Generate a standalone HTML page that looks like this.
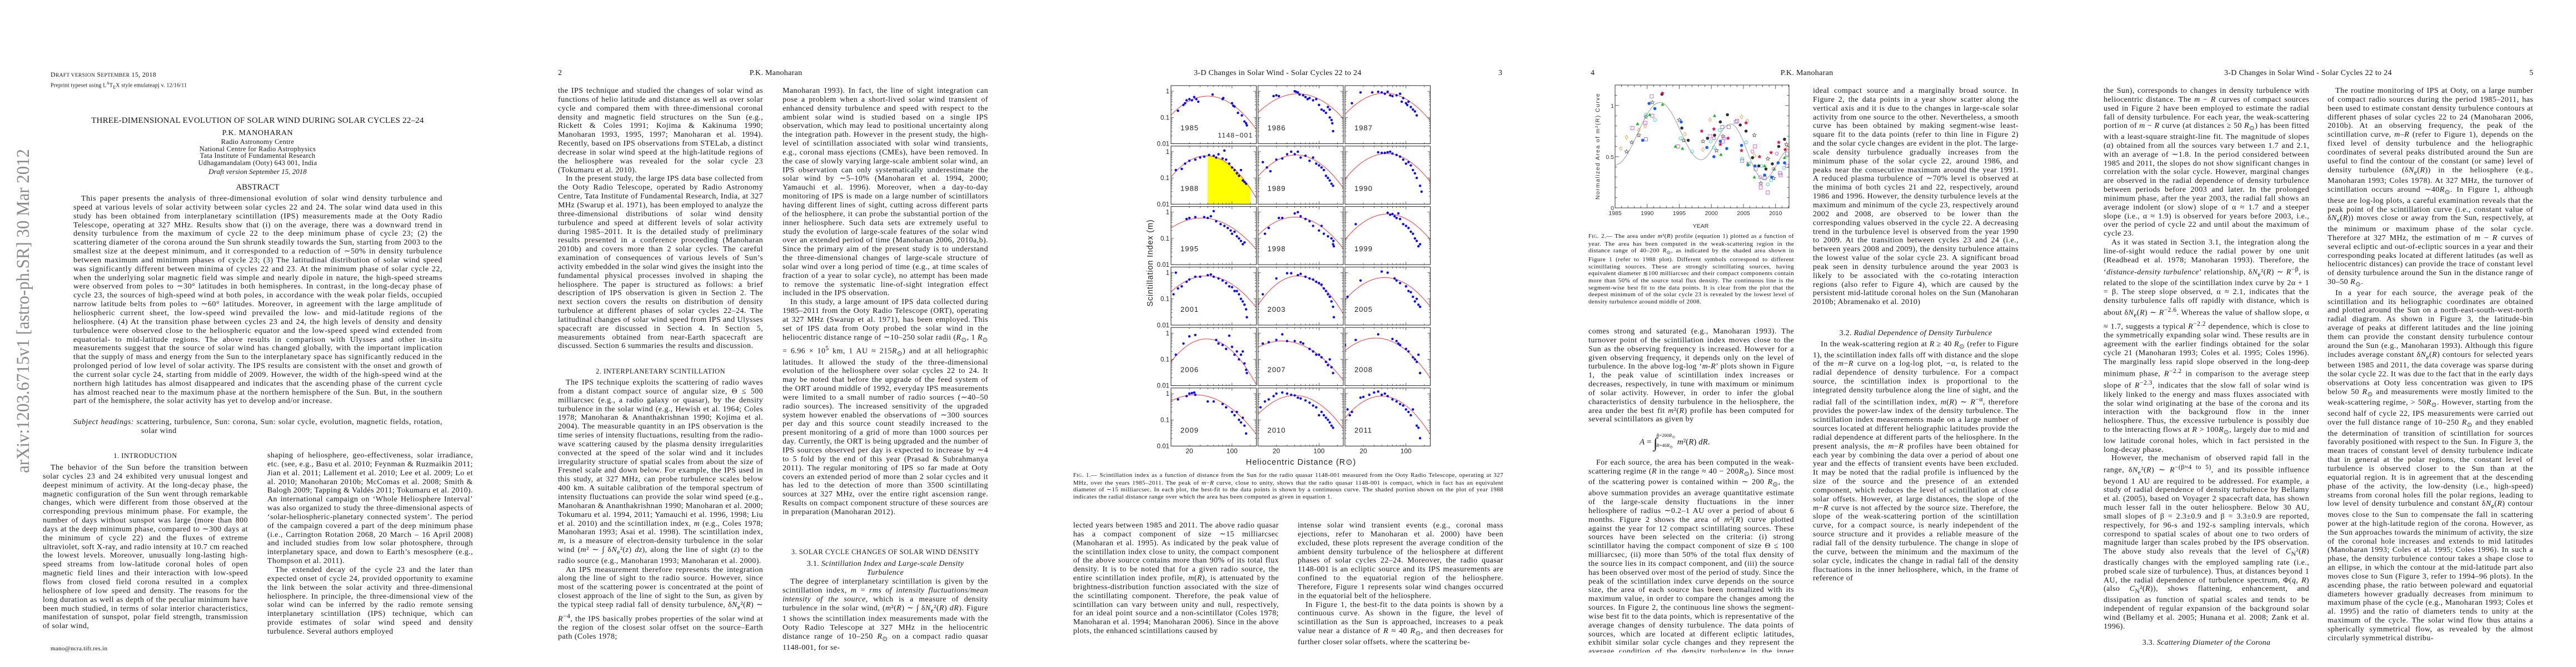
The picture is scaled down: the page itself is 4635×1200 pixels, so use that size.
<!DOCTYPE html>
<html lang="en"><head><meta charset="utf-8">
<style>
html,body{margin:0;padding:0;background:#fff;}
body{width:4635px;height:1200px;position:relative;overflow:hidden;font-family:"Liberation Serif",serif;color:#141414;}
.t{position:absolute;font-size:14px;line-height:15.85px;letter-spacing:0.42px;text-align:justify;overflow:hidden;hyphens:auto;-webkit-hyphens:auto;}
.t p{margin:0;text-indent:1em;}
.t p.ni{text-indent:0;}
.h{position:absolute;white-space:nowrap;font-size:14px;line-height:16px;}
.sc{font-size:12.5px;letter-spacing:0.5px;text-align:center;}
.cap{position:absolute;font-size:11px;line-height:12.65px;letter-spacing:0.4px;text-align:justify;overflow:hidden;hyphens:auto;}
.cap p{margin:0;}
i{font-style:italic;}
svg text{font-family:"Liberation Sans",sans-serif;}
</style></head>
<body>

<svg id="stamp" style="position:absolute;left:0;top:0" width="80" height="1200">
<text x="0" y="0" transform="translate(52,851) rotate(-90)" textLength="583" lengthAdjust="spacingAndGlyphs" style="font-family:'Liberation Serif',serif;font-size:33px;fill:#8a8a8a">arXiv:1203.6715v1  [astro-ph.SR]  30 Mar 2012</text>
</svg>

<!-- PAGE 1 -->
<div class="h" style="left:91px;top:126px;font-size:12px;letter-spacing:0.3px">D<span style="font-size:9.5px">RAFT VERSION</span> S<span style="font-size:9.5px">EPTEMBER</span> 15, 2018</div>
<div class="h" style="left:91px;top:142px;font-size:10px;letter-spacing:0.2px">Preprint typeset using L<sup style="font-size:7px">A</sup>T<sub style="font-size:8px">E</sub>X style emulateapj v. 12/16/11</div>
<div class="h" style="left:0;width:927px;top:209px;text-align:center;font-size:15px;letter-spacing:0.2px">THREE-DIMENSIONAL EVOLUTION OF SOLAR WIND DURING SOLAR CYCLES 22–24</div>
<div class="h" style="left:0;width:927px;top:232px;text-align:center;font-size:14px;letter-spacing:0.6px">P.K. MANOHARAN</div>
<div class="h" style="left:0;width:927px;top:249px;text-align:center;font-size:12.5px;line-height:12.6px;letter-spacing:0.3px">Radio Astronomy Centre<br>National Centre for Radio Astrophysics<br>Tata Institute of Fundamental Research<br>Udhagamandalam (Ooty) 643 001, India</div>
<div class="h" style="left:0;width:927px;top:301px;text-align:center;font-size:13px;font-style:italic">Draft version September 15, 2018</div>
<div class="h" style="left:0;width:927px;top:329px;text-align:center;font-size:15px">ABSTRACT</div>
<div class="t" style="left:132px;top:350px;width:664px;height:397px;letter-spacing:0.55px"><p>This paper presents the analysis of three-dimensional evolution of solar wind density turbulence and speed at various levels of solar activity between solar cycles 22 and 24. The solar wind data used in this study has been obtained from interplanetary scintillation (IPS) measurements made at the Ooty Radio Telescope, operating at 327 MHz. Results show that (i) on the average, there was a downward trend in density turbulence from the maximum of cycle 22 to the deep minimum phase of cycle 23; (2) the scattering diameter of the corona around the Sun shrunk steadily towards the Sun, starting from 2003 to the smallest size at the deepest minimum, and it corresponded to a reduction of ∼50% in density turbulence between maximum and minimum phases of cycle 23; (3) The latitudinal distribution of solar wind speed was significantly different between minima of cycles 22 and 23. At the minimum phase of solar cycle 22, when the underlying solar magnetic field was simple and nearly dipole in nature, the high-speed streams were observed from poles to ∼30° latitudes in both hemispheres. In contrast, in the long-decay phase of cycle 23, the sources of high-speed wind at both poles, in accordance with the weak polar fields, occupied narrow latitude belts from poles to ∼60° latitudes. Moreover, in agreement with the large amplitude of heliospheric current sheet, the low-speed wind prevailed the low- and mid-latitude regions of the heliosphere. (4) At the transition phase between cycles 23 and 24, the high levels of density and density turbulence were observed close to the heliospheric equator and the low-speed speed wind extended from equatorial- to mid-latitude regions. The above results in comparison with Ulysses and other in-situ measurements suggest that the source of solar wind has changed globally, with the important implication that the supply of mass and energy from the Sun to the interplanetary space has significantly reduced in the prolonged period of low level of solar activity. The IPS results are consistent with the onset and growth of the current solar cycle 24, starting from middle of 2009. However, the width of the high-speed wind at the northern high latitudes has almost disappeared and indicates that the ascending phase of the current cycle has almost reached near to the maximum phase at the northern hemisphere of the Sun. But, in the southern part of the hemisphere, the solar activity has yet to develop and/or increase.</p></div>
<div class="t" style="left:132px;top:752px;width:664px;height:33px;letter-spacing:0.5px"><p class="ni" style="padding-left:122px;text-indent:-122px"><i>Subject headings:</i> scattering, turbulence, Sun: corona, Sun: solar cycle, evolution, magnetic fields, rotation, solar wind</p></div>
<div class="h sc" style="left:77px;width:369px;top:812px">1.  INTRODUCTION</div>
<div class="t" style="left:77px;top:834px;width:369px;height:302px"><p>The behavior of the Sun before the transition between solar cycles 23 and 24 exhibited very unusual longest and deepest minimum of activity. At the long-decay phase, the magnetic configuration of the Sun went through remarkable changes, which were different from those observed at the corresponding previous minimum phase. For example, the number of days without sunspot was large (more than 800 days at the deep minimum phase, compared to ∼300 days at the minimum of cycle 22) and the fluxes of extreme ultraviolet, soft X-ray, and radio intensity at 10.7 cm reached the lowest levels. Moreover, unusually long-lasting high-speed streams from low-latitude coronal holes of open magnetic field lines and their interaction with low-speed flows from closed field corona resulted in a complex heliosphere of low speed and density. The reasons for the long duration as well as depth of the peculiar minimum have been much studied, in terms of solar interior characteristics, manifestation of sunspot, polar field strength, transmission of solar wind,</p></div>
<div class="t" style="left:481px;top:812px;width:370px;height:350px"><p class="ni">shaping of heliosphere, geo-effectiveness, solar irradiance, etc. (see, e.g., Basu et al. 2010; Feynman &amp; Ruzmaikin 2011; Jian et al. 2011; Lallement et al. 2010; Lee et al. 2009; Lo et al. 2010; Manoharan 2010b; McComas et al. 2008; Smith &amp; Balogh 2009; Tapping &amp; Valdés 2011; Tokumaru et al. 2010). An international campaign on ‘Whole Heliosphere Interval’ was also organized to study the three-dimensional aspects of ‘solar-heliospheric-planetary connected system’. The period of the campaign covered a part of the deep minimum phase (i.e., Carrington Rotation 2068, 20 March – 16 April 2008) and included studies from low solar photosphere, through interplanetary space, and down to Earth’s mesosphere (e.g., Thompson et al. 2011).</p><p>The extended decay of the cycle 23 and the later than expected onset of cycle 24, provided opportunity to examine the link between the solar activity and three-dimensional heliosphere. In principle, the three-dimensional view of the solar wind can be inferred by the radio remote sensing interplanetary scintillation (IPS) technique, which can provide estimates of solar wind speed and density turbulence. Several authors employed</p></div>
<div class="h" style="left:91px;top:1159px;font-size:11px;letter-spacing:0.3px">mano@ncra.tifr.res.in</div>

<!-- PAGE 2 -->
<div class="h" style="left:1004px;top:124px">2</div>
<div class="h" style="left:1291px;width:210px;top:124px;text-align:center;letter-spacing:0.3px">P.K. Manoharan</div>
<div class="t" style="left:1004px;top:156px;width:369px;height:492px"><p class="ni">the IPS technique and studied the changes of solar wind as functions of helio latitude and distance as well as over solar cycle and compared them with three-dimensional coronal density and magnetic field structures on the Sun (e.g., Rickett &amp; Coles 1991; Kojima &amp; Kakinuma 1990; Manoharan 1993, 1995, 1997; Manoharan et al. 1994). Recently, based on IPS observations from STELab, a distinct decrease in solar wind speed at the high-latitude regions of the heliosphere was revealed for the solar cycle 23 (Tokumaru et al. 2010).</p><p>In the present study, the large IPS data base collected from the Ooty Radio Telescope, operated by Radio Astronomy Centre, Tata Institute of Fundamental Research, India, at 327 MHz (Swarup et al. 1971), has been employed to analyze the three-dimensional distributions of solar wind density turbulence and speed at different levels of solar activity during 1985–2011. It is the detailed study of preliminary results presented in a conference proceeding (Manoharan 2010b) and covers more than 2 solar cycles. The careful examination of consequences of various levels of Sun’s activity embedded in the solar wind gives the insight into the fundamental physical processes involved in shaping the heliosphere. The paper is structured as follows: a brief description of IPS observation is given in Section 2. The next section covers the results on distribution of density turbulence at different phases of solar cycles 22–24. The latitudinal changes of solar wind speed from IPS and Ulysses spacecraft are discussed in Section 4. In Section 5, measurements obtained from near-Earth spacecraft are discussed. Section 6 summaries the results and discussion.</p></div>
<div class="h sc" style="left:1004px;width:369px;top:660px">2.  INTERPLANETARY SCINTILLATION</div>
<div class="t" style="left:1004px;top:681px;width:369px;height:492px"><p>The IPS technique exploits the scattering of radio waves from a distant compact source of angular size, Θ ≤ 500 milliarcsec (e.g., a radio galaxy or quasar), by the density turbulence in the solar wind (e.g., Hewish et al. 1964; Coles 1978; Manoharan &amp; Ananthakrishnan 1990; Kojima et al. 2004). The measurable quantity in an IPS observation is the time series of intensity fluctuations, resulting from the radio-wave scattering caused by the plasma density irregularities convected at the speed of the solar wind and it includes irregularity structure of spatial scales from about the size of Fresnel scale and down below. For example, the IPS used in this study, at 327 MHz, can probe turbulence scales below 400 km. A suitable calibration of the temporal spectrum of intensity fluctuations can provide the solar wind speed (e.g., Manoharan &amp; Ananthakrishnan 1990; Manoharan et al. 2000; Tokumaru et al. 1994, 2011; Yamauchi et al. 1996, 1998; Liu et al. 2010) and the scintillation index, <i>m</i> (e.g., Coles 1978; Manoharan 1993; Asai et al. 1998). The scintillation index, <i>m</i>, is a measure of electron-density turbulence in the solar wind (<i>m</i>² ∼ ∫ δ<i>N</i><sub>e</sub>²(<i>z</i>) <i>dz</i>), along the line of sight (<i>z</i>) to the radio source (e.g., Manoharan 1993; Manoharan et al. 2000).</p><p>An IPS measurement therefore represents the integration along the line of sight to the radio source. However, since most of the scattering power is concentrated at the point of closest approach of the line of sight to the Sun, as given by the typical steep radial fall of density turbulence, δ<i>N</i><sub>e</sub>²(<i>R</i>) ∼ <i>R</i><sup>−4</sup>, the IPS basically probes properties of the solar wind at the region of the closest solar offset on the source–Earth path (Coles 1978;</p></div>
<div class="t" style="left:1408px;top:156px;width:370px;height:809px"><p class="ni">Manoharan 1993). In fact, the line of sight integration can pose a problem when a short-lived solar wind transient of enhanced density turbulence and speed with respect to the ambient solar wind is studied based on a single IPS observation, which may lead to positional uncertainty along the integration path. However in the present study, the high-level of scintillation associated with solar wind transients, e.g., coronal mass ejections (CMEs), have been removed. In the case of slowly varying large-scale ambient solar wind, an IPS observation can only systematically underestimate the solar wind by ∼5–10% (Manoharan et al. 1994, 2000; Yamauchi et al. 1996). Moreover, when a day-to-day monitoring of IPS is made on a large number of scintillators having different lines of sight, cutting across different parts of the heliosphere, it can probe the substantial portion of the inner heliosphere. Such data sets are extremely useful to study the evolution of large-scale features of the solar wind over an extended period of time (Manoharan 2006, 2010a,b). Since the primary aim of the present study is to understand the three-dimensional changes of large-scale structure of solar wind over a long period of time (e.g., at time scales of fraction of a year to solar cycle), no attempt has been made to remove the systematic line-of-sight integration effect included in the IPS observation.</p><p>In this study, a large amount of IPS data collected during 1985–2011 from the Ooty Radio Telescope (ORT), operating at 327 MHz (Swarup et al. 1971), has been employed. This set of IPS data from Ooty probed the solar wind in the heliocentric distance range of ∼10–250 solar radii (<i>R</i><sub>⊙</sub>, 1 <i>R</i><sub>⊙</sub> = 6.96 × 10<sup>5</sup> km, 1 AU ≈ 215<i>R</i><sub>⊙</sub>) and at all heliographic latitudes. It allowed the study of the three-dimensional evolution of the heliosphere over solar cycles 22 to 24. It may be noted that before the upgrade of the feed system of the ORT around middle of 1992, everyday IPS measurements were limited to a small number of radio sources (∼40–50 radio sources). The increased sensitivity of the upgraded system however enabled the observations of ∼300 sources per day and this source count steadily increased to the present monitoring of a grid of more than 1000 sources per day. Currently, the ORT is being upgraded and the number of IPS sources observed per day is expected to increase by ∼4 to 5 fold by the end of this year (Prasad &amp; Subrahmanya 2011). The regular monitoring of IPS so far made at Ooty covers an extended period of more than 2 solar cycles and it has led to the detection of more than 3500 scintillating sources at 327 MHz, over the entire right ascension range. Results on compact component structure of these sources are in preparation (Manoharan 2012).</p></div>
<div class="h sc" style="left:1408px;width:370px;top:985px">3.  SOLAR CYCLE CHANGES OF SOLAR WIND DENSITY</div>
<div class="h" style="left:1408px;width:370px;top:1007px;text-align:center;line-height:16px;letter-spacing:0.3px">3.1.  <i>Scintillation Index and Large-scale Density<br>Turbulence</i></div>
<div class="t" style="left:1408px;top:1039px;width:370px;height:134px"><p>The degree of interplanetary scintillation is given by the scintillation index, <i>m</i> = <i>rms of intensity fluctuations/mean intensity of the source</i>, which is a measure of density turbulence in the solar wind, (<i>m</i>²(<i>R</i>) ∼ ∫ δ<i>N</i><sub>e</sub>²(<i>R</i>) <i>dR</i>). Figure 1 shows the scintillation index measurements made with the Ooty Radio Telescope at 327 MHz in the heliocentric distance range of 10–250 <i>R</i><sub>⊙</sub> on a compact radio quasar 1148-001, for se-</p></div>

<!-- PAGE 3 -->
<div class="h" style="left:2148px;top:124px;letter-spacing:0.3px">3-D Changes in Solar Wind - Solar Cycles 22 to 24</div>
<div class="h" style="left:2696px;top:124px">3</div>
<div class="cap" style="left:1931px;top:849px;width:774px;height:66px"><p><span style="font-size:10px">F</span><span style="font-size:8.5px">IG</span>. 1.— Scintillation index as a function of distance from the Sun for the radio quasar 1148-001 measured from the Ooty Radio Telescope, operating at 327 MHz, over the years 1985–2011. The peak of <i>m</i>−<i>R</i> curve, close to unity, shows that the radio quasar 1148-001 is compact, which in fact has an equivalent diameter of ∼15 milliarcsec. In each plot, the best-fit to the data points is shown by a continuous curve. The shaded portion shown on the plot of year 1988 indicates the radial distance range over which the area has been computed as given in equation 1.</p></div>
<div class="t" style="left:1931px;top:938px;width:370px;height:222px"><p class="ni">lected years between 1985 and 2011. The above radio quasar has a compact component of size ∼15 milliarcsec (Manoharan et al. 1995). As indicated by the peak value of the scintillation index close to unity, the compact component of the above source contains more than 90% of its total flux density. It is to be noted that for a given radio source, the entire scintillation index profile, <i>m</i>(<i>R</i>), is attenuated by the brightness-distribution function associated with the size of the scintillating component. Therefore, the peak value of scintillation can vary between unity and null, respectively, for an ideal point source and a non-scintillator (Coles 1978; Manoharan et al. 1994; Manoharan 2006). Since in the above plots, the enhanced scintillations caused by</p></div>
<div class="t" style="left:2335px;top:938px;width:370px;height:222px"><p class="ni">intense solar wind transient events (e.g., coronal mass ejections, refer to Manoharan et al. 2000) have been excluded, these plots represent the average condition of the ambient density turbulence of the heliosphere at different phases of solar cycles 22–24. Moreover, the radio quasar 1148-001 is an ecliptic source and its IPS measurements are confined to the equatorial region of the heliosphere. Therefore, Figure 1 represents solar wind changes occurred in the equatorial belt of the heliosphere.</p><p>In Figure 1, the best-fit to the data points is shown by a continuous curve. As shown in the figure, the level of scintillation as the Sun is approached, increases to a peak value near a distance of <i>R</i> ≈ 40 <i>R</i><sub>⊙</sub>, and then decreases for further closer solar offsets, where the scattering be-</p></div>

<!-- PAGE 4 -->
<div class="h" style="left:2862px;top:124px">4</div>
<div class="h" style="left:3146px;width:210px;top:124px;text-align:center;letter-spacing:0.3px">P.K. Manoharan</div>
<div class="cap" style="left:2858px;top:419px;width:370px;height:141px"><p><span style="font-size:10px">F</span><span style="font-size:8.5px">IG</span>. 2.— The area under <i>m</i>²(<i>R</i>) profile (equation 1) plotted as a function of year. The area has been computed in the weak-scattering region in the distance range of 40–200 <i>R</i><sub>⊙</sub>, as indicated by the shaded area shown in Figure 1 (refer to 1988 plot). Different symbols correspond to different scintillating sources. These are strongly scintillating sources, having equivalent diameter ≲100 milliarcsec and their compact components contain more than 50% of the source total flux density. The continuous line is the segment-wise best fit to the data points. It is clear from the plot that the deepest minimum of of the solar cycle 23 is revealed by the lowest level of density turbulence around middle of 2008.</p></div>
<div class="t" style="left:2858px;top:589px;width:370px;height:175px"><p class="ni">comes strong and saturated (e.g., Manoharan 1993). The turnover point of the scintillation index moves close to the Sun as the observing frequency is increased. However for a given observing frequency, it depends only on the level of turbulence. In the above log-log ‘<i>m</i>-<i>R</i>’ plots shown in Figure 1, the peak value of scintillation index increases or decreases, respectively, in tune with maximum or minimum of solar activity. However, in order to infer the global characteristics of density turbulence in the heliosphere, the area under the best fit <i>m</i>²(<i>R</i>) profile has been computed for several scintillators as given by</p></div>
<div class="h" style="left:2950px;top:776px;font-size:15px;line-height:18px"><i>A</i> = <span style="font-size:26px;vertical-align:-6px">∫</span><span style="display:inline-block;vertical-align:-4px;font-size:8.5px;line-height:14px;margin-left:-2px"><i>R</i>=200<i>R</i><sub>⊙</sub><br><i>R</i>=40<i>R</i><sub>⊙</sub></span>  <i>m</i>²(<i>R</i>) <i>dR</i>.</div>
<div class="t" style="left:2858px;top:825px;width:370px;height:349px"><p>For each source, the area has been computed in the weak-scattering regime (<i>R</i> in the range ≈ 40 − 200<i>R</i><sub>⊙</sub>). Since most of the scattering power is contained within ∼ 200 <i>R</i><sub>⊙</sub>, the above summation provides an average quantitative estimate of the large-scale density fluctuations in the inner heliosphere of radius ∼0.2–1 AU over a period of about 6 months. Figure 2 shows the area of <i>m</i>²(<i>R</i>) curve plotted against the year for 12 compact scintillating sources. These sources have been selected on the criteria: (i) strong scintillator having the compact component of size Θ ≤ 100 milliarcsec, (ii) more than 50% of the total flux density of the source lies in its compact component, and (iii) the source has been observed over most of the period of study. Since the peak of the scintillation index curve depends on the source size, the area of each source has been normalized with its maximum value, in order to compare the changes among the sources. In Figure 2, the continuous line shows the segment-wise best fit to the data points, which is representative of the average changes of density turbulence. The data points of sources, which are located at different ecliptic latitudes, exhibit similar solar cycle changes and they represent the average condition of the density turbulence in the inner heliosphere. The changes in area between an</p></div>
<div class="t" style="left:3262px;top:156px;width:370px;height:413px"><p class="ni">ideal compact source and a marginally broad source. In Figure 2, the data points in a year show scatter along the vertical axis and it is due to the changes in large-scale solar activity from one source to the other. Nevertheless, a smooth curve has been obtained by making segment-wise least-square fit to the data points (refer to thin line in Figure 2) and the solar cycle changes are evident in the plot. The large-scale density turbulence gradually increases from the minimum phase of the solar cycle 22, around 1986, and peaks near the consecutive maximum around the year 1991. A reduced plasma turbulence of ∼70% level is observed at the minima of both cycles 21 and 22, respectively, around 1986 and 1996. However, the density turbulence levels at the maximum and minimum of the cycle 23, respectively around 2002 and 2008, are observed to be lower than the corresponding values observed in the cycle 22. A decreasing trend in the turbulence level is observed from the year 1990 to 2009. At the transition between cycles 23 and 24 (i.e., between years 2008 and 2009), the density turbulence attains the lowest value of the solar cycle 23. A significant broad peak seen in density turbulence around the year 2003 is likely to be associated with the co-rotating interaction regions (also refer to Figure 4), which are caused by the persistent mid-latitude coronal holes on the Sun (Manoharan 2010b; Abramenako et al. 2010)</p></div>
<div class="h" style="left:3262px;width:370px;top:592px;text-align:center;letter-spacing:0.3px">3.2.  <i>Radial Dependence of Density Turbulence</i></div>
<div class="t" style="left:3262px;top:612px;width:370px;height:562px"><p>In the weak-scattering region at <i>R</i> ≥ 40 <i>R</i><sub>⊙</sub> (refer to Figure 1), the scintillation index falls off with distance and the slope of the <i>m</i>−<i>R</i> curve on a log-log plot, −α, is related to the radial dependence of density turbulence. For a compact source, the scintillation index is proportional to the integrated density turbulence along the line of sight, and the radial fall of the scintillation index, <i>m</i>(<i>R</i>) ∼ <i>R</i><sup>−α</sup>, therefore provides the power-law index of the density turbulence. The scintillation index measurements made on a large number of sources located at different heliographic latitudes provide the radial dependence at different parts of the heliosphere. In the present analysis, the <i>m</i>−<i>R</i> profiles have been obtained for each year by combining the data over a period of about one year and the effects of transient events have been excluded. It may be noted that the radial profile is influenced by the size of the source and the presence of an extended component, which reduces the level of scintillation at close solar offsets. However, at large distances, the slope of the <i>m</i>−<i>R</i> curve is not affected by the source size. Therefore, the slope of the weak-scattering portion of the scintillation curve, for a compact source, is nearly independent of the source structure and it provides a reliable measure of the radial fall of the density turbulence. The change in slope of the curve, between the minimum and the maximum of the solar cycle, indicates the change in radial fall of the density fluctuations in the inner heliosphere, which, in the frame of reference of</p></div>

<!-- PAGE 5 -->
<div class="h" style="left:4002px;top:124px;letter-spacing:0.3px">3-D Changes in Solar Wind - Solar Cycles 22 to 24</div>
<div class="h" style="left:4551px;top:124px">5</div>
<div class="t" style="left:3785px;top:156px;width:370px;height:983px"><p class="ni">the Sun), corresponds to changes in density turbulence with heliocentric distance. The <i>m</i> − <i>R</i> curves of compact sources used in Figure 2 have been employed to estimate the radial fall of density turbulence. For each year, the weak-scattering portion of <i>m</i> − <i>R</i> curve (at distances ≥ 50 <i>R</i><sub>⊙</sub>) has been fitted with a least-square straight-line fit. The magnitude of slopes (α) obtained from all the sources vary between 1.7 and 2.1, with an average of ∼1.8. In the period considered between 1985 and 2011, the slopes do not show significant changes in correlation with the solar cycle. However, marginal changes are observed in the radial dependence of density turbulence between periods before 2003 and later. In the prolonged minimum phase, after the year 2003, the radial fall shows an average indolent (or slow) slope of α ≈ 1.7 and a steeper slope (i.e., α ≈ 1.9) is observed for years before 2003, i.e., over the period of cycle 22 and until about the maximum of cycle 23.</p><p>As it was stated in Section 3.1, the integration along the line-of-sight would reduce the radial power by one unit (Readhead et al. 1978; Manoharan 1993). Therefore, the ‘<i>distance-density turbulence</i>’ relationship, δ<i>N</i><sub>e</sub>²(<i>R</i>) ∼ <i>R</i><sup>−β</sup>, is related to the slope of the scintillation index curve by 2α + 1 = β. The steep slope observed, α ≈ 2.1, indicates that the density turbulence falls off rapidly with distance, which is about δ<i>N</i><sub>e</sub>(<i>R</i>) ∼ <i>R</i><sup>−2.6</sup>. Whereas the value of shallow slope, α ≈ 1.7, suggests a typical <i>R</i><sup>−2.2</sup> dependence, which is close to the symmetrically expanding solar wind. These results are in agreement with the earlier findings obtained for the solar cycle 21 (Manoharan 1993; Coles et al. 1995; Coles 1996). The marginally less rapid slope observed in the long-deep minimum phase, <i>R</i><sup>−2.2</sup> in comparison to the average steep slope of <i>R</i><sup>−2.3</sup>, indicates that the slow fall of solar wind is likely linked to the energy and mass fluxes associated with the solar wind originating at the base of the corona and its interaction with the background flow in the inner heliosphere. Thus, the excessive turbulence is possibly due to the interacting flows at <i>R</i> &gt; 100<i>R</i><sub>⊙</sub>, largely due to mid and low latitude coronal holes, which in fact persisted in the long-decay phase.</p><p>However, the mechanism of observed rapid fall in the range, δ<i>N</i><sub>e</sub>²(<i>R</i>) ∼ <i>R</i><sup>−(β≈4 to 5)</sup>, and its possible influence beyond 1 AU are required to be addressed. For example, a study of radial dependence of density turbulence by Bellamy et al. (2005), based on Voyager 2 spacecraft data, has shown much lesser fall in the outer heliosphere. Below 30 AU, small slopes of β = 2.3±0.9 and β = 3.3±0.9 are reported, respectively, for 96-s and 192-s sampling intervals, which correspond to spatial scales of about one to two orders of magnitude larger than scales probed by the IPS observation. The above study also reveals that the level of <i>C</i><sub>N</sub>²(<i>R</i>) drastically changes with the employed sampling rate (i.e., probed scale size of turbulence). Thus, at distances beyond 1 AU, the radial dependence of turbulence spectrum, Φ(<i>q</i>, <i>R</i>) (also <i>C</i><sub>N</sub>²(<i>R</i>)), shows flattening, enhancement, and dissipation as function of spatial scales and tends to be independent of regular expansion of the background solar wind (Bellamy et al. 2005; Hunana et al. 2008; Zank et al. 1996).</p></div>
<div class="h" style="left:3785px;width:370px;top:1149px;text-align:center;letter-spacing:0.3px">3.3.  <i>Scattering Diameter of the Corona</i></div>
<div class="t" style="left:4188px;top:156px;width:370px;height:1017px"><p>The routine monitoring of IPS at Ooty, on a large number of compact radio sources during the period 1985–2011, has been used to estimate constant density turbulence contours at different phases of solar cycles 22 to 24 (Manoharan 2006, 2010b). At an observing frequency, the peak of the scintillation curve, <i>m</i>–<i>R</i> (refer to Figure 1), depends on the fixed level of density turbulence and the heliographic coordinates of several peaks distributed around the Sun are useful to find the contour of the constant (or same) level of density turbulence (δ<i>N</i><sub>e</sub>(<i>R</i>)) in the heliosphere (e.g., Manoharan 1993; Coles 1978). At 327 MHz, the turnover of scintillation occurs around ∼40<i>R</i><sub>⊙</sub>. In Figure 1, although these are log-log plots, a careful examination reveals that the peak point of the scintillation curve (i.e., constant value of δ<i>N</i><sub>e</sub>(<i>R</i>)) moves close or away from the Sun, respectively, at the minimum or maximum phase of the solar cycle. Therefore at 327 MHz, the estimation of <i>m</i> − <i>R</i> curves of several ecliptic and out-of-ecliptic sources in a year and their corresponding peaks located at different latitudes (as well as heliocentric distances) can provide the trace of constant level of density turbulence around the Sun in the distance range of 30–50 <i>R</i><sub>⊙</sub>.</p><p>In a year for each source, the average peak of the scintillation and its heliographic coordinates are obtained and plotted around the Sun on a north-east-south-west-north radial diagram. As shown in Figure 3, the latitude-bin average of peaks at different latitudes and the line joining them can provide the constant density turbulence contour around the Sun (e.g., Manoharan 1993). Although this figure includes average constant δ<i>N</i><sub>e</sub>(<i>R</i>) contours for selected years between 1985 and 2011, the data coverage was sparse during the solar cycle 22. It was due to the fact that in the early days observations at Ooty less concentration was given to IPS below 50 <i>R</i><sub>⊙</sub> and measurements were mostly limited to the weak-scattering regime, &gt; 50<i>R</i><sub>⊙</sub>. However, starting from the second half of cycle 22, IPS measurements were carried out over the full distance range of 10–250 <i>R</i><sub>⊙</sub> and they enabled the determination of transition of scintillation for sources favorably positioned with respect to the Sun. In Figure 3, the mean traces of constant level of density turbulence indicate that in general at the polar regions, the constant level of turbulence is observed closer to the Sun than at the equatorial region. It is in agreement that at the descending phase of the activity, the low-density (i.e., high-speed) streams from coronal holes fill the polar regions, leading to low level of density turbulence and constant δ<i>N</i><sub>e</sub>(<i>R</i>) contour moves close to the Sun to compensate the fall in scattering power at the high-latitude region of the corona. However, as the Sun approaches towards the minimum of activity, the size of the coronal hole increases and extends to mid latitudes (Manoharan 1993; Coles et al. 1995; Coles 1996). In such a phase, the density turbulence contour takes a shape close to an ellipse, in which the contour at the mid-latitude part also moves close to Sun (Figure 3, refer to 1994–96 plots). In the ascending phase, the ratio between poleward and equatorial diameters however gradually decreases from minimum to maximum phase of the cycle (e.g., Manoharan 1993; Coles et al. 1995) and the ratio of diameters tends to unity at the maximum of the cycle. The solar wind flow thus attains a spherically symmetrical flow, as revealed by the almost circularly symmetrical distribu-</p></div>

<svg id="figs" style="position:absolute;left:0;top:0" width="4635" height="1200" xmlns="http://www.w3.org/2000/svg"></svg>

<script>
// ---------- Figure 1 data ----------
const fig1Years = ['1985','1986','1987','1988','1989','1990','1995','1998','1999','2001','2003','2005','2006','2007','2008','2009','2010','2011'];
const fig1PeakR = [40,45,45,38,42,48,32,40,50,38,45,45,38,25,32,25,40,40];
const fig1PeakM = [0.65,0.8,0.85,0.7,0.75,0.85,0.6,0.65,0.85,0.75,0.75,0.65,0.6,0.5,0.65,0.9,0.85,0.8];
const fig1Curv  = [2.0,1.7,1.9,2.4,2.1,2.1,1.5,1.9,2.0,1.8,2.6,2.0,2.6,1.5,1.9,1.5,2.0,2.3];
const pts1985 = [[13,0.18],[16,0.3],[17,0.35],[18,0.45],[20,0.5],[22,0.45],[24,0.6],[26,0.5],[28,0.4],[48,0.75],[70,0.5],[72,0.55],[100,0.35],[105,0.28],[110,0.26],[125,0.15],[145,0.12],[160,0.07],[170,0.06],[175,0.05]];
const pts1986 = [[18,0.65],[20,0.7],[22,0.65],[40,1.0],[42,0.95],[45,0.9],[48,0.75],[55,0.7],[60,0.6],[65,0.5],[70,0.55],[80,0.45],[90,0.5],[100,0.3],[110,0.2],[120,0.18],[130,0.15],[140,0.25],[150,0.1],[160,0.08],[165,0.06],[170,0.03],[150,0.2]];
const pts1987 = [[13,0.35],[18,0.9],[28,0.9],[35,0.95],[40,0.9],[45,0.8],[50,0.95],[55,0.7],[60,0.65],[70,0.7],[80,0.8],[85,0.4],[90,0.55],[100,0.35],[105,0.3],[110,0.4],[120,0.25],[130,0.2],[140,0.17],[150,0.12]];
const pts1988 = [[12,0.2],[15,0.22],[17,0.35],[20,0.45],[25,0.5],[30,0.6],[35,0.65],[42,0.75],[50,0.7],[55,0.6],[60,0.8],[70,0.55],[75,1.1],[80,0.5],[90,0.35],[100,0.25],[110,0.2],[120,0.15],[130,0.12],[140,0.2],[150,0.08],[160,0.07],[170,0.06]];
const pts1989 = [[12,0.4],[14,0.25],[16,0.18],[20,0.5],[25,0.55],[30,0.8],[35,1.0],[40,0.8],[45,1.0],[50,0.6],[60,0.7],[70,0.45],[80,0.6],[90,0.35],[100,0.3],[110,0.25],[120,0.2],[130,0.12],[140,0.1],[150,0.08],[160,0.06],[170,0.05]];
const pts1990 = [[35,0.95],[40,0.9],[45,0.9],[50,0.95],[55,1.0],[60,0.85],[70,0.75],[80,0.65],[90,0.5],[100,0.35],[110,0.4],[120,0.3],[130,0.2],[140,0.15],[150,0.1],[170,0.05],[180,0.03]];
const pts1995 = [[18,0.55],[20,0.6],[25,0.65],[35,0.65],[40,0.6],[45,0.7],[50,1.1],[55,0.45],[65,0.35],[75,0.3],[85,0.25],[95,0.2],[100,0.15],[110,0.18],[120,0.12],[130,0.1],[140,0.08],[150,0.06],[160,0.07]];
const pts1998 = [[13,0.15],[15,0.25],[22,0.6],[25,0.6],[40,0.9],[45,1.0],[50,0.7],[60,0.55],[70,0.45],[80,0.3],[100,0.2],[110,0.3],[120,0.15],[140,0.12],[160,0.1],[170,0.06],[172,0.08],[175,0.05]];
const pts1999 = [[15,0.35],[50,0.95],[55,0.8],[60,0.85],[65,0.7],[70,0.6],[75,0.9],[80,0.55],[90,0.35],[100,0.3],[110,0.25],[120,0.18],[130,0.15],[140,0.1],[150,0.08],[160,0.05],[170,0.06]];
const pts2001 = [[11,0.15],[12,1.0],[13,0.25],[15,0.3],[18,0.45],[20,0.55],[25,0.7],[30,0.7],[40,0.8],[45,0.85],[50,0.7],[60,0.6],[70,0.5],[80,0.4],[90,0.3],[100,0.28],[110,0.2],[120,0.2],[130,0.15],[140,0.1],[150,0.08],[160,0.06],[170,0.04],[175,0.02]];
const pts2003 = [[12,0.15],[20,0.6],[30,0.95],[35,0.95],[45,0.8],[50,0.9],[60,0.7],[70,0.6],[80,0.55],[90,0.45],[100,0.4],[110,0.35],[120,0.25],[130,0.2],[140,0.15],[150,0.12],[160,0.08],[170,0.05],[175,0.02]];
const pts2005 = [[11,0.12],[18,0.5],[40,1.1],[50,1.0],[65,0.6],[70,0.5],[80,0.4],[100,0.3],[110,0.2],[120,0.18],[130,0.12],[140,0.08],[150,0.1],[160,0.06],[170,0.05]];
const pts2006 = [[12,0.15],[16,0.4],[20,0.75],[25,0.85],[55,0.55],[60,0.4],[70,0.35],[80,0.25],[90,0.8],[100,0.3],[110,0.15],[120,0.2],[130,0.1],[140,0.15],[150,0.2],[160,0.07],[170,0.04],[175,0.03]];
const pts2007 = [[12,0.4],[15,0.45],[20,0.55],[25,0.9],[30,0.5],[40,0.5],[50,0.45],[55,0.4],[70,0.25],[80,0.2],[90,0.15],[100,0.15],[110,0.12],[130,0.08],[140,0.06],[150,0.1],[160,0.05],[170,0.03]];
const pts2008 = [[10,0.35],[15,0.55],[35,0.9],[60,0.6],[70,0.5],[75,0.4],[80,0.35],[100,0.25],[110,0.2],[130,0.12],[140,0.1],[150,0.08],[160,0.15],[170,0.03]];
const pts2009 = [[13,0.6],[18,0.8],[20,1.0],[22,1.05],[24,1.1],[25,0.9],[40,0.5],[50,0.5],[70,0.4],[80,0.3],[100,0.2],[110,0.15],[120,0.2],[130,0.1],[140,0.08],[150,0.12],[160,0.06],[170,0.03]];
const pts2010 = [[11,0.3],[13,0.5],[15,0.6],[18,0.8],[20,1.0],[25,1.1],[30,1.0],[35,0.9],[40,0.85],[45,0.7],[50,0.65],[60,0.55],[70,0.45],[80,0.35],[90,0.3],[100,0.15],[110,0.2],[120,0.15],[130,0.12],[140,0.1],[150,0.08],[160,0.06],[170,0.05]];
const pts2011 = [[11,0.25],[12,0.15],[13,0.2],[18,0.7],[20,0.75],[25,0.9],[30,1.1],[35,1.2],[40,0.9],[45,1.0],[50,0.8],[60,0.6],[70,0.5],[80,0.4],[90,0.35],[100,0.25],[110,0.2],[120,0.15],[130,0.25],[150,0.06],[160,0.05],[170,0.02]];
const fig1Points = [pts1985,pts1986,pts1987,pts1988,pts1989,pts1990,pts1995,pts1998,pts1999,pts2001,pts2003,pts2005,pts2006,pts2007,pts2008,pts2009,pts2010,pts2011];
const fig1YTicks = [1,0.1,0.01];
const fig1YTickLabels = ['1','0.1','0.01'];
const fig1XTicks = [20,100];
const fig1XTickLabels = ['20','100'];
const fig1ShadeRange = [40,200];

// ---------- Figure 2 data ----------
const fitKnotYears = [1985,1992,1998.4,2003,2008.2,2012.2];
const fitKnotVals  = [0.42,1.03,0.47,0.82,0.28,0.57];
const fig2XTicks = [1985,1990,1995,2000,2005,2010];
const fig2YTicks = [0,0.5,1];
const fig2YTickLabels = ['0','0.5','1'];
const s1Years=[1985.9,1986.8,1988.7,1989.7,1995.9,1999.8,1998.7,2004.7,2005.6,2011.9,2006.7], s1Vals=[0.58,0.69,0.76,0.8,0.72,0.86,0.57,0.89,0.85,0.59,0.51];
const s2Years=[1986.8,1987.6,1988.7,1989.8,1990.8,1995,1995.7,1998.7,2000.8,2001.8,2006.7,2007.7,2008.8,2009.7,2011.7], s2Vals=[0.55,0.64,0.71,0.89,1.03,0.86,0.66,0.65,0.56,0.7,0.71,0.24,0.48,0.29,0.62];
const s3Years=[1987.7,1989.7,1990.8,1994.8,1999.8,2001.8,2004,2006.8,2007.7,2008.8,2010.8,2011.8], s3Vals=[0.78,0.83,0.9,0.6,0.7,0.65,0.85,0.6,0.2,0.15,0.32,0.41];
const s4Years=[1989.3,1990.3,1991.2,1995.3,1999.3,2000.4,2001.4,2002.4,2004.7,2005.7,2006.8,2008.3,2009.4,2010.4,2011.4], s4Vals=[0.66,1.02,0.97,0.84,0.59,0.5,0.65,0.58,0.61,0.42,0.41,0.32,0.3,0.44,0.44];
const s5Years=[1989.8,1991.2,1995.2,1997,1999.9,2000.4,2001.3,2004.8,2005.4,2007.8,2008.8,2009.3,2011.3], s5Vals=[0.91,0.86,0.68,0.55,0.65,0.59,0.76,0.48,0.64,0.41,0.23,0.27,0.39];
const s6Years=[1988.5,1990.4,1992.4,1994.4,1995.5,2000.5,2001.5,2005.7,2006.7,2008.3,2009.8,2011.4], s6Vals=[0.82,0.91,1.01,0.6,0.58,0.9,0.52,0.43,0.3,0.41,0.38,0.49];
const s7Years=[1992.3,1995.4,1996.4,1999.4,2000.5,2001.4,2002.5,2004.5,2005.4,2006.4,2007.4,2008.5,2009.5,2010.5,2011.4], s7Vals=[1.11,0.78,0.66,0.68,0.71,0.84,0.91,0.81,0.75,0.49,0.41,0.38,0.43,0.6,0.67];
const s8Years=[1992.4,1998.5,2000.4,2001.4,2002.6,2005.4,2004.7,2007.5,2009.3,2010.5,2011.5], s8Vals=[1.12,0.75,0.77,0.62,0.68,0.83,0.56,0.5,0.54,0.64,0.57];
const s9Years=[1990.7,1989.8,2001.7,2002.7,2003.8,2004.8,2005.8,2006.9,2008.3,2010.7,2011.8], s9Vals=[1.09,0.67,0.79,0.79,0.84,0.46,0.43,0.38,0.29,0.34,0.53];
const s10Years=[2000.4,2002,2006.4,2007.6,2009.7,2010.2], s10Vals=[0.68,0.68,0.55,0.3,0.38,0.53];
const seriesYears=[s1Years,s2Years,s3Years,s4Years,s5Years,s6Years,s7Years,s8Years,s9Years,s10Years];
const seriesVals=[s1Vals,s2Vals,s3Vals,s4Vals,s5Vals,s6Vals,s7Vals,s8Vals,s9Vals,s10Vals];
const seriesSymbols=['diamond','star','square','dot','circle','triangle','dot','fstar','square','circle'];
const seriesColors=['#f0a050','#555555','#e050e0','#1560ff','#30d8b0','#10c010','#303030','#e0104a','#8a78e8','#c050f0'];

// ---------- drawing ----------
const NS='http://www.w3.org/2000/svg';
const svg=document.getElementById('figs');
function mk(tag,attrs,parent){const e=document.createElementNS(NS,tag);for(const k in attrs)e.setAttribute(k,attrs[k]);(parent||svg).appendChild(e);return e;}

const colX=[2107,2263.5,2420], rowY0=154, rowStep=108.8, PW=153.5, PH=104.5;
const LOGTOP=Math.log10(1.64), LOGBOT=-2, LOGXL=1, LOGXR=Math.log10(250);
function fxR(px,R){return px+(Math.log10(R)-LOGXL)/(LOGXR-LOGXL)*PW;}
function fyM(py,m){return py+(LOGTOP-Math.log10(m))/(LOGTOP-LOGBOT)*PH;}
function fitM(i,R){const d=Math.log10(R)-Math.log10(fig1PeakR[i]);return Math.pow(10,Math.log10(fig1PeakM[i])-fig1Curv[i]*d*d);}

const fig1=mk('g',{});


const defs=mk('defs',{},fig1);
for(let i=0;i<fig1Years.length;i++){
  const c=i%3,r=Math.floor(i/3);
  const px=colX[c],py=rowY0+r*rowStep;
  const g=mk('g',{},fig1);
  
  
  const cp=mk('clipPath',{id:'cp'+i},defs);
  mk('rect',{x:px,y:py,width:PW,height:PH},cp);
  const inner=mk('g',{'clip-path':'url(#cp'+i+')'},g);
  if(fig1Years[i]==='1988'){
    let d='M'+fxR(px,fig1ShadeRange[0])+','+fyM(py,0.01);
    for(let k=0;k<=40;k++){const lr=Math.log10(fig1ShadeRange[0])+k/40*(Math.log10(fig1ShadeRange[1])-Math.log10(fig1ShadeRange[0]));const R=Math.pow(10,lr);d+=' L'+fxR(px,R).toFixed(2)+','+fyM(py,fitM(i,R)).toFixed(2);}
    d+=' L'+fxR(px,fig1ShadeRange[1])+','+fyM(py,0.01)+'Z';
    const sh=mk('path',{d:d,fill:'#ffff00',stroke:'none'},inner);
    
    
  }
  let d='';
  for(let k=0;k<=80;k++){const lr=LOGXL+k/80*(LOGXR-LOGXL);const R=Math.pow(10,lr);d+=(k?' L':'M')+fxR(px,R).toFixed(2)+','+fyM(py,fitM(i,R)).toFixed(2);}
  const cv=mk('path',{d:d,fill:'none',stroke:'#ff2020','stroke-width':0.9},inner);
  
  
  for(const p of fig1Points[i]){
    const dot=mk('circle',{cx:fxR(px,p[0]).toFixed(2),cy:fyM(py,p[1]).toFixed(2),r:2.2,fill:'#0a0aff'},inner);
    
    
  }
  const fr=mk('rect',{x:px,y:py,width:PW,height:PH,fill:'none',stroke:'#222','stroke-width':1},g);
  
  
  for(let e=-2;e<=0;e++){for(let k=1;k<=9;k++){const m=k*Math.pow(10,e);if(m>1.64)continue;const y=fyM(py,m);const L=k===1?5:2.5;
    mk('line',{x1:px,y1:y,x2:px+L,y2:y,stroke:'#222','stroke-width':0.7},g);mk('line',{x1:px+PW,y1:y,x2:px+PW-L,y2:y,stroke:'#222','stroke-width':0.7},g);}}
  for(let e=1;e<=2;e++){for(let k=1;k<=9;k++){const R=k*Math.pow(10,e);if(R>250||(e===1&&k===1))continue;const x=fxR(px,R);const L=k===1?5:2.5;
    mk('line',{x1:x,y1:py+PH,x2:x,y2:py+PH-L,stroke:'#222','stroke-width':0.7},g);mk('line',{x1:x,y1:py,x2:x,y2:py+L,stroke:'#222','stroke-width':0.7},g);}}
  const yl=mk('text',{x:px+17,y:py+PH-24,'font-size':13,fill:'#222','letter-spacing':1},g);
  yl.textContent=fig1Years[i];
  
  
  if(i===0){const s=mk('text',{x:px+PW-6,y:py+PH-11,'font-size':12,'text-anchor':'end',fill:'#222','letter-spacing':1.3},g);s.textContent='1148−001';
    
    }
  if(c===0){for(let t=0;t<fig1YTicks.length;t++){const tl=mk('text',{x:px-3,y:fyM(py,fig1YTicks[t])+4,'font-size':11.5,'text-anchor':'end',fill:'#222'},g);tl.textContent=fig1YTickLabels[t];
    
    }}
  if(r===5){for(let t=0;t<fig1XTicks.length;t++){const tl=mk('text',{x:fxR(px,fig1XTicks[t]),y:py+PH+13,'font-size':12,'text-anchor':'middle',fill:'#222'},g);tl.textContent=fig1XTickLabels[t];
    
    }}
}
const xt=mk('text',{x:2341,y:836,'font-size':14.5,'text-anchor':'middle',fill:'#222','letter-spacing':1},fig1);
xt.textContent='Heliocentric Distance (R⊙)';


const yt=mk('text',{x:0,y:0,transform:'translate(2074,473) rotate(-90)','font-size':14.5,'text-anchor':'middle',fill:'#222','letter-spacing':0.8},fig1);
yt.textContent='Scintillation Index (m)';



// Figure 2
const F2L=2906,F2R=3219,F2T=153,F2B=374,F2Y0=1985,F2Y1=2012.1,F2V1=1.2;
function fx2(yr){return F2L+(yr-F2Y0)/(F2Y1-F2Y0)*(F2R-F2L);}
function fy2(v){return F2B-v/F2V1*(F2B-F2T);}
const fig2=mk('g',{});


let fd='';
for(let k=0;k<fitKnotYears.length-1;k++){
  for(let s=0;s<=30;s++){const t=s/30;const w=(1-Math.cos(Math.PI*t))/2;const yr=fitKnotYears[k]+t*(fitKnotYears[k+1]-fitKnotYears[k]);const v=fitKnotVals[k]+w*(fitKnotVals[k+1]-fitKnotVals[k]);
    if(yr>F2Y1)continue;fd+=(fd?' L':'M')+fx2(yr).toFixed(2)+','+fy2(v).toFixed(2);}
}
const fc=mk('path',{d:fd,fill:'none',stroke:'#999','stroke-width':1},fig2);


function star(cx,cy,R){let p='';for(let k=0;k<10;k++){const a=-Math.PI/2+k*Math.PI/5;const rr=k%2?R*0.45:R;p+=(cx+rr*Math.cos(a)).toFixed(2)+','+(cy+rr*Math.sin(a)).toFixed(2)+' ';}return p;}
for(let s=0;s<seriesYears.length;s++){
  const g=mk('g',{},fig2);
  
  
  const col=seriesColors[s];
  for(let k=0;k<seriesYears[s].length;k++){
    const x=fx2(seriesYears[s][k]),y=fy2(seriesVals[s][k]);let el;
    const sym=seriesSymbols[s];
    if(sym==='diamond')el=mk('polygon',{points:`${x},${y-3.6} ${x+2.6},${y} ${x},${y+3.6} ${x-2.6},${y}`,fill:'none',stroke:col,'stroke-width':0.9},g);
    else if(sym==='star')el=mk('polygon',{points:star(x,y,3.6),fill:'none',stroke:col,'stroke-width':0.8},g);
    else if(sym==='fstar')el=mk('polygon',{points:star(x,y,3.4),fill:col,stroke:col,'stroke-width':0.5},g);
    else if(sym==='square')el=mk('rect',{x:x-3,y:y-3,width:6,height:6,fill:'none',stroke:col,'stroke-width':0.9},g);
    else if(sym==='dot')el=mk('circle',{cx:x,cy:y,r:2.8,fill:col},g);
    else if(sym==='circle')el=mk('circle',{cx:x,cy:y,r:2.8,fill:'none',stroke:col,'stroke-width':0.9},g);
    else el=mk('polygon',{points:`${x},${y-3.3} ${x+3},${y+2.3} ${x-3},${y+2.3}`,fill:col},g);
    
    
  }
}
const f2frame=mk('rect',{x:F2L,y:F2T,width:F2R-F2L,height:F2B-F2T,fill:'none',stroke:'#333','stroke-width':1},fig2);


for(let yr=1985;yr<=2012;yr++){const x=fx2(yr);const L=(yr%5===0)?7:3.5;mk('line',{x1:x,y1:F2B,x2:x,y2:F2B-L,stroke:'#333','stroke-width':0.8},fig2);mk('line',{x1:x,y1:F2T,x2:x,y2:F2T+L,stroke:'#333','stroke-width':0.8},fig2);}
for(let k=0;k<=12;k++){const v=k/10;const y=fy2(v);const L=(k%5===0)?7:3.5;mk('line',{x1:F2L,y1:y,x2:F2L+L,y2:y,stroke:'#333','stroke-width':0.8},fig2);mk('line',{x1:F2R,y1:y,x2:F2R-L,y2:y,stroke:'#333','stroke-width':0.8},fig2);}
for(const yr of fig2XTicks){const t=mk('text',{x:fx2(yr),y:F2B+13,'font-size':10.5,'text-anchor':'middle',fill:'#333'},fig2);t.textContent=String(yr);
  
  }
for(let k=0;k<fig2YTicks.length;k++){const t=mk('text',{x:F2L-2,y:fy2(fig2YTicks[k])+4,'font-size':10.5,'text-anchor':'end',fill:'#333'},fig2);t.textContent=fig2YTickLabels[k];
  
  }
const f2x=mk('text',{x:3060,y:410,'font-size':10.5,'text-anchor':'middle',fill:'#333'},fig2);
f2x.textContent='YEAR';


const f2y=mk('text',{x:0,y:0,transform:'translate(2878,263) rotate(-90)','font-size':10.5,'text-anchor':'middle',fill:'#333','letter-spacing':1.4},fig2);
f2y.textContent='Normalized Area of m²(R) Curve';


</script>
</body></html>
